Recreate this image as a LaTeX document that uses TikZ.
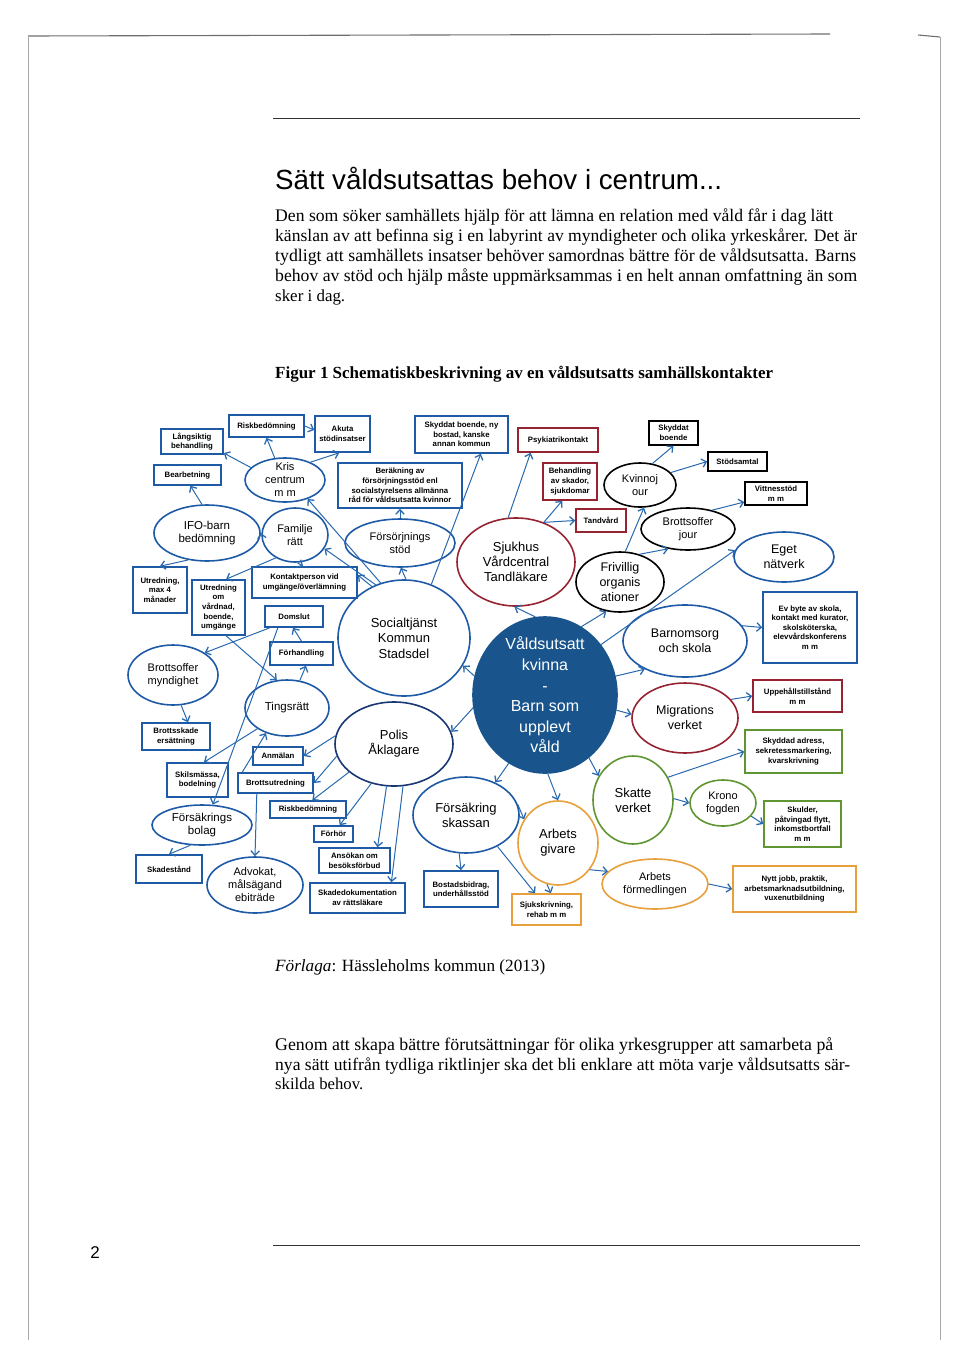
\documentclass[tikz,border=0pt]{standalone}
\usepackage{fontspec}
\setmainfont{Liberation Serif}
\setsansfont{Liberation Sans}
\usetikzlibrary{shapes.geometric,arrows.meta}
\definecolor{cblue}{RGB}{30,90,165}
\definecolor{cline}{RGB}{40,105,175}
\definecolor{cred}{RGB}{150,35,50}
\definecolor{cgreen}{RGB}{95,150,50}
\definecolor{corange}{RGB}{232,160,60}
\definecolor{cfill}{RGB}{25,85,140}
\definecolor{cnavy}{RGB}{25,55,115}
\definecolor{cframe}{RGB}{110,110,110}
\newcommand\ELL[8]{\node[ell,#6,minimum width=#4pt,minimum height=#5pt] (#1) at (#2,#3) {};\node[lbl,#7] (#1-t) at (#1.center) {#8};}
\newcommand\BOX[7]{\node[bx,#6,minimum width=#4pt,minimum height=#5pt] (#1) at (#2,#3) {#7};}
\begin{document}
\begin{tikzpicture}[x=1pt,y=-1pt,
  bx/.style={draw=cblue, line width=1.6pt, rectangle, inner sep=0.5pt, align=center, font=\sffamily\bfseries\fontsize{7.8}{9.6}\selectfont},
  ell/.style={draw=cblue, line width=1.6pt, ellipse, inner sep=0pt},
  lbl/.style={align=center, font=\sffamily\fontsize{11}{13}\selectfont, inner sep=0pt},
  big/.style={font=\sffamily\fontsize{12.5}{15}\selectfont},
  arr/.style={draw=cline, line width=1pt, -{Straight Barb[length=4.5pt,width=8.5pt,line width=1.3pt]}},
  ln/.style={anchor=base west, inner sep=0pt, font=\fontsize{16.5}{20}\selectfont},
]
\useasboundingbox (0,0) rectangle (960,1355);
% page frame
\draw[cframe, line width=1.1pt] (28,36) -- (830,34);
\draw[cframe, line width=1.1pt] (918,35) -- (940,37);
\draw[cframe!60, line width=0.6pt] (940,37) -- (940,1340);
\draw[cframe!60, line width=0.6pt] (28,36) -- (28,1340);
\draw[black!80, line width=0.8pt] (273,118) -- (860,118);
\draw[black!80, line width=0.8pt] (273,1245) -- (860,1245);
\node[font=\sffamily\fontsize{17}{20}\selectfont, inner sep=0pt] (pnum) at (95,1253) {2};
% title and text
\node[anchor=base west, inner sep=0pt] (title) at (275,189) {\resizebox{447pt}{!}{\sffamily\fontsize{27.7}{30}\selectfont Sätt våldsutsattas behov i centrum...}};
\node[ln] (p1) at (275,221) {\resizebox{558pt}{!}{Den som söker samhällets hjälp för att lämna en relation med våld får i dag lätt}};
\node[ln] (p2) at (275,241) {\resizebox{582pt}{!}{känslan av att befinna sig i en labyrint av myndigheter och olika yrkeskårer. Det är}};
\node[ln] (p3) at (275,261) {\resizebox{581pt}{!}{tydligt att samhällets insatser behöver samordnas bättre för de våldsutsatta. Barns}};
\node[ln] (p4) at (275,281) {\resizebox{582pt}{!}{behov av stöd och hjälp måste uppmärksammas i en helt annan omfattning än som}};
\node[ln] (p5) at (275,301) {\resizebox{70pt}{!}{sker i dag.}};
\node[ln] (cap) at (275,378) {\resizebox{498pt}{!}{\bfseries Figur 1 Schematiskbeskrivning av en våldsutsatts samhällskontakter}};
\node[ln] (src) at (275,971) {\resizebox{270pt}{!}{\textit{Förlaga}: Hässleholms kommun (2013)}};
\node[ln] (q1) at (275,1050) {\resizebox{558pt}{!}{Genom att skapa bättre förutsättningar för olika yrkesgrupper att samarbeta på}};
\node[ln] (q2) at (275,1070) {\resizebox{575pt}{!}{nya sätt utifrån tydliga riktlinjer ska det bli enklare att möta varje våldsutsatts sär-}};
\node[ln] (q3) at (275,1089) {\resizebox{88pt}{!}{skilda behov.}};
% ---------------- ellipses
\ELL{kris}{285}{480}{80}{44}{}{}{Kris\\centrum\\m m}
\ELL{ifo}{207}{533}{106}{56}{}{font=\sffamily\fontsize{11.5}{13}\selectfont}{IFO-barn\\bedömning}
\ELL{familj}{295}{535}{66}{54}{}{}{Familje\\rätt}
\ELL{forsorj}{400}{543}{110}{48}{}{}{Försörjnings\\stöd}
\ELL{sjukhus}{516}{562}{118}{88}{draw=cred}{font=\sffamily\fontsize{13}{15}\selectfont}{Sjukhus\\Vårdcentral\\Tandläkare}
\ELL{kvinno}{640}{485}{72}{44}{draw=black}{}{Kvinnoj\\our}
\ELL{bojour}{688}{529}{94}{42}{draw=black}{}{Brottsoffer\\jour}
\ELL{eget}{784}{557}{100}{50}{}{big}{Eget\\nätverk}
\ELL{friv}{620}{582}{88}{60}{draw=black}{font=\sffamily\fontsize{12.5}{15}\selectfont}{Frivillig\\organis\\ationer}
\ELL{brottsm}{173}{675}{90}{60}{}{}{Brottsoffer\\myndighet}
\ELL{tings}{287}{708}{84}{56}{}{font=\sffamily\fontsize{11.5}{13}\selectfont}{Tingsrätt}
\ELL{social}{404}{638}{132}{116}{}{font=\sffamily\fontsize{13}{15.5}\selectfont}{Socialtjänst\\Kommun\\Stadsdel}
\ELL{vald}{545}{695}{144}{156}{draw=cfill,fill=cfill}{text=white,font=\sffamily\fontsize{16}{20.6}\selectfont}{Våldsutsatt\\kvinna\\-\\Barn som\\upplevt\\våld}
\ELL{barnom}{685}{641}{124}{72}{}{big}{Barnomsorg\\och skola}
\ELL{migr}{685}{718}{106}{70}{draw=cred}{big}{Migrations\\verket}
\ELL{forsbol}{202}{825}{100}{40}{}{font=\sffamily\fontsize{11.5}{13}\selectfont}{Försäkrings\\bolag}
\ELL{advokat}{255}{885}{96}{56}{}{}{Advokat,\\målsägand\\ebiträde}
\ELL{polis}{394}{744}{118}{84}{draw=cnavy}{font=\sffamily\fontsize{13}{15}\selectfont}{Polis\\Åklagare}
\ELL{fk}{466}{815}{106}{76}{}{font=\sffamily\fontsize{13}{15}\selectfont}{Försäkring\\skassan}
\ELL{arbg}{558}{843}{80}{84}{draw=corange}{font=\sffamily\fontsize{13}{15}\selectfont}{Arbets\\givare}
\ELL{skatte}{633}{800}{80}{88}{draw=cgreen}{font=\sffamily\fontsize{13}{15}\selectfont}{Skatte\\verket}
\ELL{krono}{723}{803}{66}{46}{draw=cgreen}{}{Krono\\fogden}
\ELL{af}{655}{884}{106}{50}{draw=corange}{}{Arbets\\förmedlingen}
% ---------------- boxes
\BOX{lang}{192}{441.5}{62}{25}{}{Långsiktig\\behandling}
\BOX{risk1}{266.5}{426}{75}{22}{}{Riskbedömning}
\BOX{akuta}{342.5}{434}{55}{36}{}{Akuta\\stödinsatser}
\BOX{bearb}{187.5}{475}{67}{20}{}{Bearbetning}
\BOX{berak}{400}{485.5}{124}{45}{}{Beräkning av\\försörjningsstöd enl\\socialstyrelsens allmänna\\råd för våldsutsatta kvinnor}
\BOX{skydd1}{461.5}{434.5}{93}{37}{}{Skyddat boende, ny\\bostad, kanske\\annan kommun}
\BOX{psyk}{558}{440}{80}{24}{draw=cred}{Psykiatrikontakt}
\BOX{behand}{570}{481.5}{54}{37}{draw=cred}{Behandling\\av skador,\\sjukdomar}
\BOX{tand}{601}{520.5}{50}{23}{draw=cred}{Tandvård}
\BOX{skydd2}{673.5}{433}{49}{24}{draw=black}{Skyddat\\boende}
\BOX{stods}{737.5}{461.5}{59}{19}{draw=black}{Stödsamtal}
\BOX{vittn}{776}{493.5}{62}{23}{draw=black}{Vittnesstöd\\m m}
\BOX{utr4}{160}{590}{54}{46}{}{Utredning,\\max 4\\månader}
\BOX{utrv}{218.5}{607.5}{53}{55}{}{Utredning\\om\\vårdnad,\\boende,\\umgänge}
\BOX{kontakt}{304.5}{582.5}{105}{31}{}{Kontaktperson vid\\umgänge/överlämning}
\BOX{domslut}{294}{616.5}{58}{21}{}{Domslut}
\BOX{forh}{301.5}{653.5}{63}{23}{}{Förhandling}
\BOX{bsk}{176}{736.5}{68}{27}{}{Brottsskade\\ersättning}
\BOX{skils}{197.5}{780}{61}{34}{}{Skilsmässa,\\bodelning}
\BOX{anm}{278}{756}{50}{18}{}{Anmälan}
\BOX{butr}{275.5}{783}{75}{20}{}{Brottsutredning}
\BOX{risk2}{308}{809.5}{76}{17}{}{Riskbedömning}
\BOX{forhor}{333.5}{834}{39}{16}{}{Förhör}
\BOX{ansok}{354.5}{860.5}{71}{25}{}{Ansökan om\\besöksförbud}
\BOX{skaded}{357.5}{898}{95}{30}{}{Skadedokumentation\\av rättsläkare}
\BOX{skadest}{169}{869}{66}{28}{}{Skadestånd}
\BOX{evbyte}{810}{627.5}{94}{71}{}{Ev byte av skola,\\kontakt med kurator,\\skolsköterska,\\elevvårdskonferens\\m m}
\BOX{uppeh}{797.5}{696}{89}{32}{draw=cred}{Uppehållstillstånd\\m m}
\BOX{skadr}{793.5}{751.5}{97}{43}{draw=cgreen}{Skyddad adress,\\sekretessmarkering,\\kvarskrivning}
\BOX{bostad}{461}{889}{74}{36}{}{Bostadsbidrag,\\underhållsstöd}
\BOX{sjukskr}{546.5}{909.5}{69}{31}{draw=corange}{Sjukskrivning,\\rehab m m}
\BOX{skulder}{802.5}{824}{77}{46}{draw=cgreen}{Skulder,\\påtvingad flytt,\\inkomstbortfall\\m m}
\BOX{nytt}{794.5}{889}{123}{46}{draw=corange}{Nytt jobb, praktik,\\arbetsmarknadsutbildning,\\vuxenutbildning}
% ---------------- connectors
\draw[arr] (kris.160) -- (lang.-20);
\draw[arr] (kris.115) -- (risk1.south);
\draw[arr] (risk1.east) -- (akuta.172);
\draw[arr] (kris.35) -- (akuta.-100);
\draw[arr] (social.113) -- (kris.-40);
\draw[arr] (familj.west) -- (ifo.east);
\draw[arr] (ifo.100) -- (bearb.-75);
\draw[arr] (ifo.235) -- (utr4.north);
\draw[arr] (familj.230) -- (utrv.75);
\draw[arr] (familj.-85) -- (kontakt.95);
\draw[arr] (social.118) -- (familj.-25);
\draw[arr] (social.122) -- (kontakt.8);
\draw[arr] (social.88) -- (forsorj.-88);
\draw[arr] (forsorj.north) -- (berak.south);
\draw[arr] (social.63) -- (skydd1.-45);
\draw[arr] (utrv.-75) -- (tings.110);
\draw[arr] (domslut.205) -- (brottsm.35);
\draw[arr] (tings.65) -- (forh.-70);
\draw[arr] (forh.north) -- (domslut.-95);
\draw[arr] (brottsm.-75) -- (bsk.50);
\draw[arr] (domslut.215) -- (forsbol.62);
\draw[arr] (tings.215) -- (skils.70);
\draw[arr] (butr.162) -- (tings.-130);
\draw[arr] (polis.172) -- (anm.east);
\draw[arr] (polis.192) -- (butr.east);
\draw[arr] (polis.212) -- (risk2.65);
\draw[arr] (polis.240) -- (forhor.55);
\draw[arr] (polis.-100) -- (ansok.30);
\draw[arr] (polis.-78) -- (skaded.25);
\draw[arr] (butr.-150) -- (advokat.north);
\draw[arr] (forsbol.-120) -- (skadest.north);
\draw[arr] (vald.165) -- (social.-25);
\draw[arr] (vald.97) -- (sjukhus.-92);
\draw[arr] (vald.62) -- (friv.-115);
\draw[arr] (vald.190) -- (polis.12);
\draw[arr] (vald.-118) -- (fk.48);
\draw[arr] (vald.-88) -- (arbg.north);
\draw[arr] (vald.-55) -- (skatte.145);
\draw[arr] (vald.15) -- (barnom.-145);
\draw[arr] (vald.-12) -- (migr.176);
\draw[arr] (vald.42) -- (eget.172);
\draw[arr] (sjukhus.100) -- (psyk.-155);
\draw[arr] (sjukhus.55) -- (behand.-112);
\draw[arr] (sjukhus.55) -- (tand.west);
\draw[arr] (friv.80) -- (kvinno.-80);
\draw[arr] (friv.55) -- (bojour.-135);
\draw[arr] (kvinno.60) -- (skydd2.south);
\draw[arr] (kvinno.22) -- (stods.west);
\draw[arr] (bojour.38) -- (vittn.-165);
\draw[arr] (barnom.15) -- (evbyte.west);
\draw[arr] (migr.22) -- (uppeh.west);
\draw[arr] (skatte.33) -- (skadr.west);
\draw[arr] (skatte.2) -- (krono.180);
\draw[arr] (krono.-25) -- (skulder.west);
\draw[arr] (af.0) -- (nytt.west);
\draw[arr] (arbg.-40) -- (af.165);
\draw[arr] (fk.12) -- (arbg.145);
\draw[arr] (fk.-100) -- (bostad.north);
\draw[arr] (fk.-45) -- (sjukskr.125);
\draw[arr] (arbg.-105) -- (sjukskr.75);
\end{tikzpicture}
\end{document}
